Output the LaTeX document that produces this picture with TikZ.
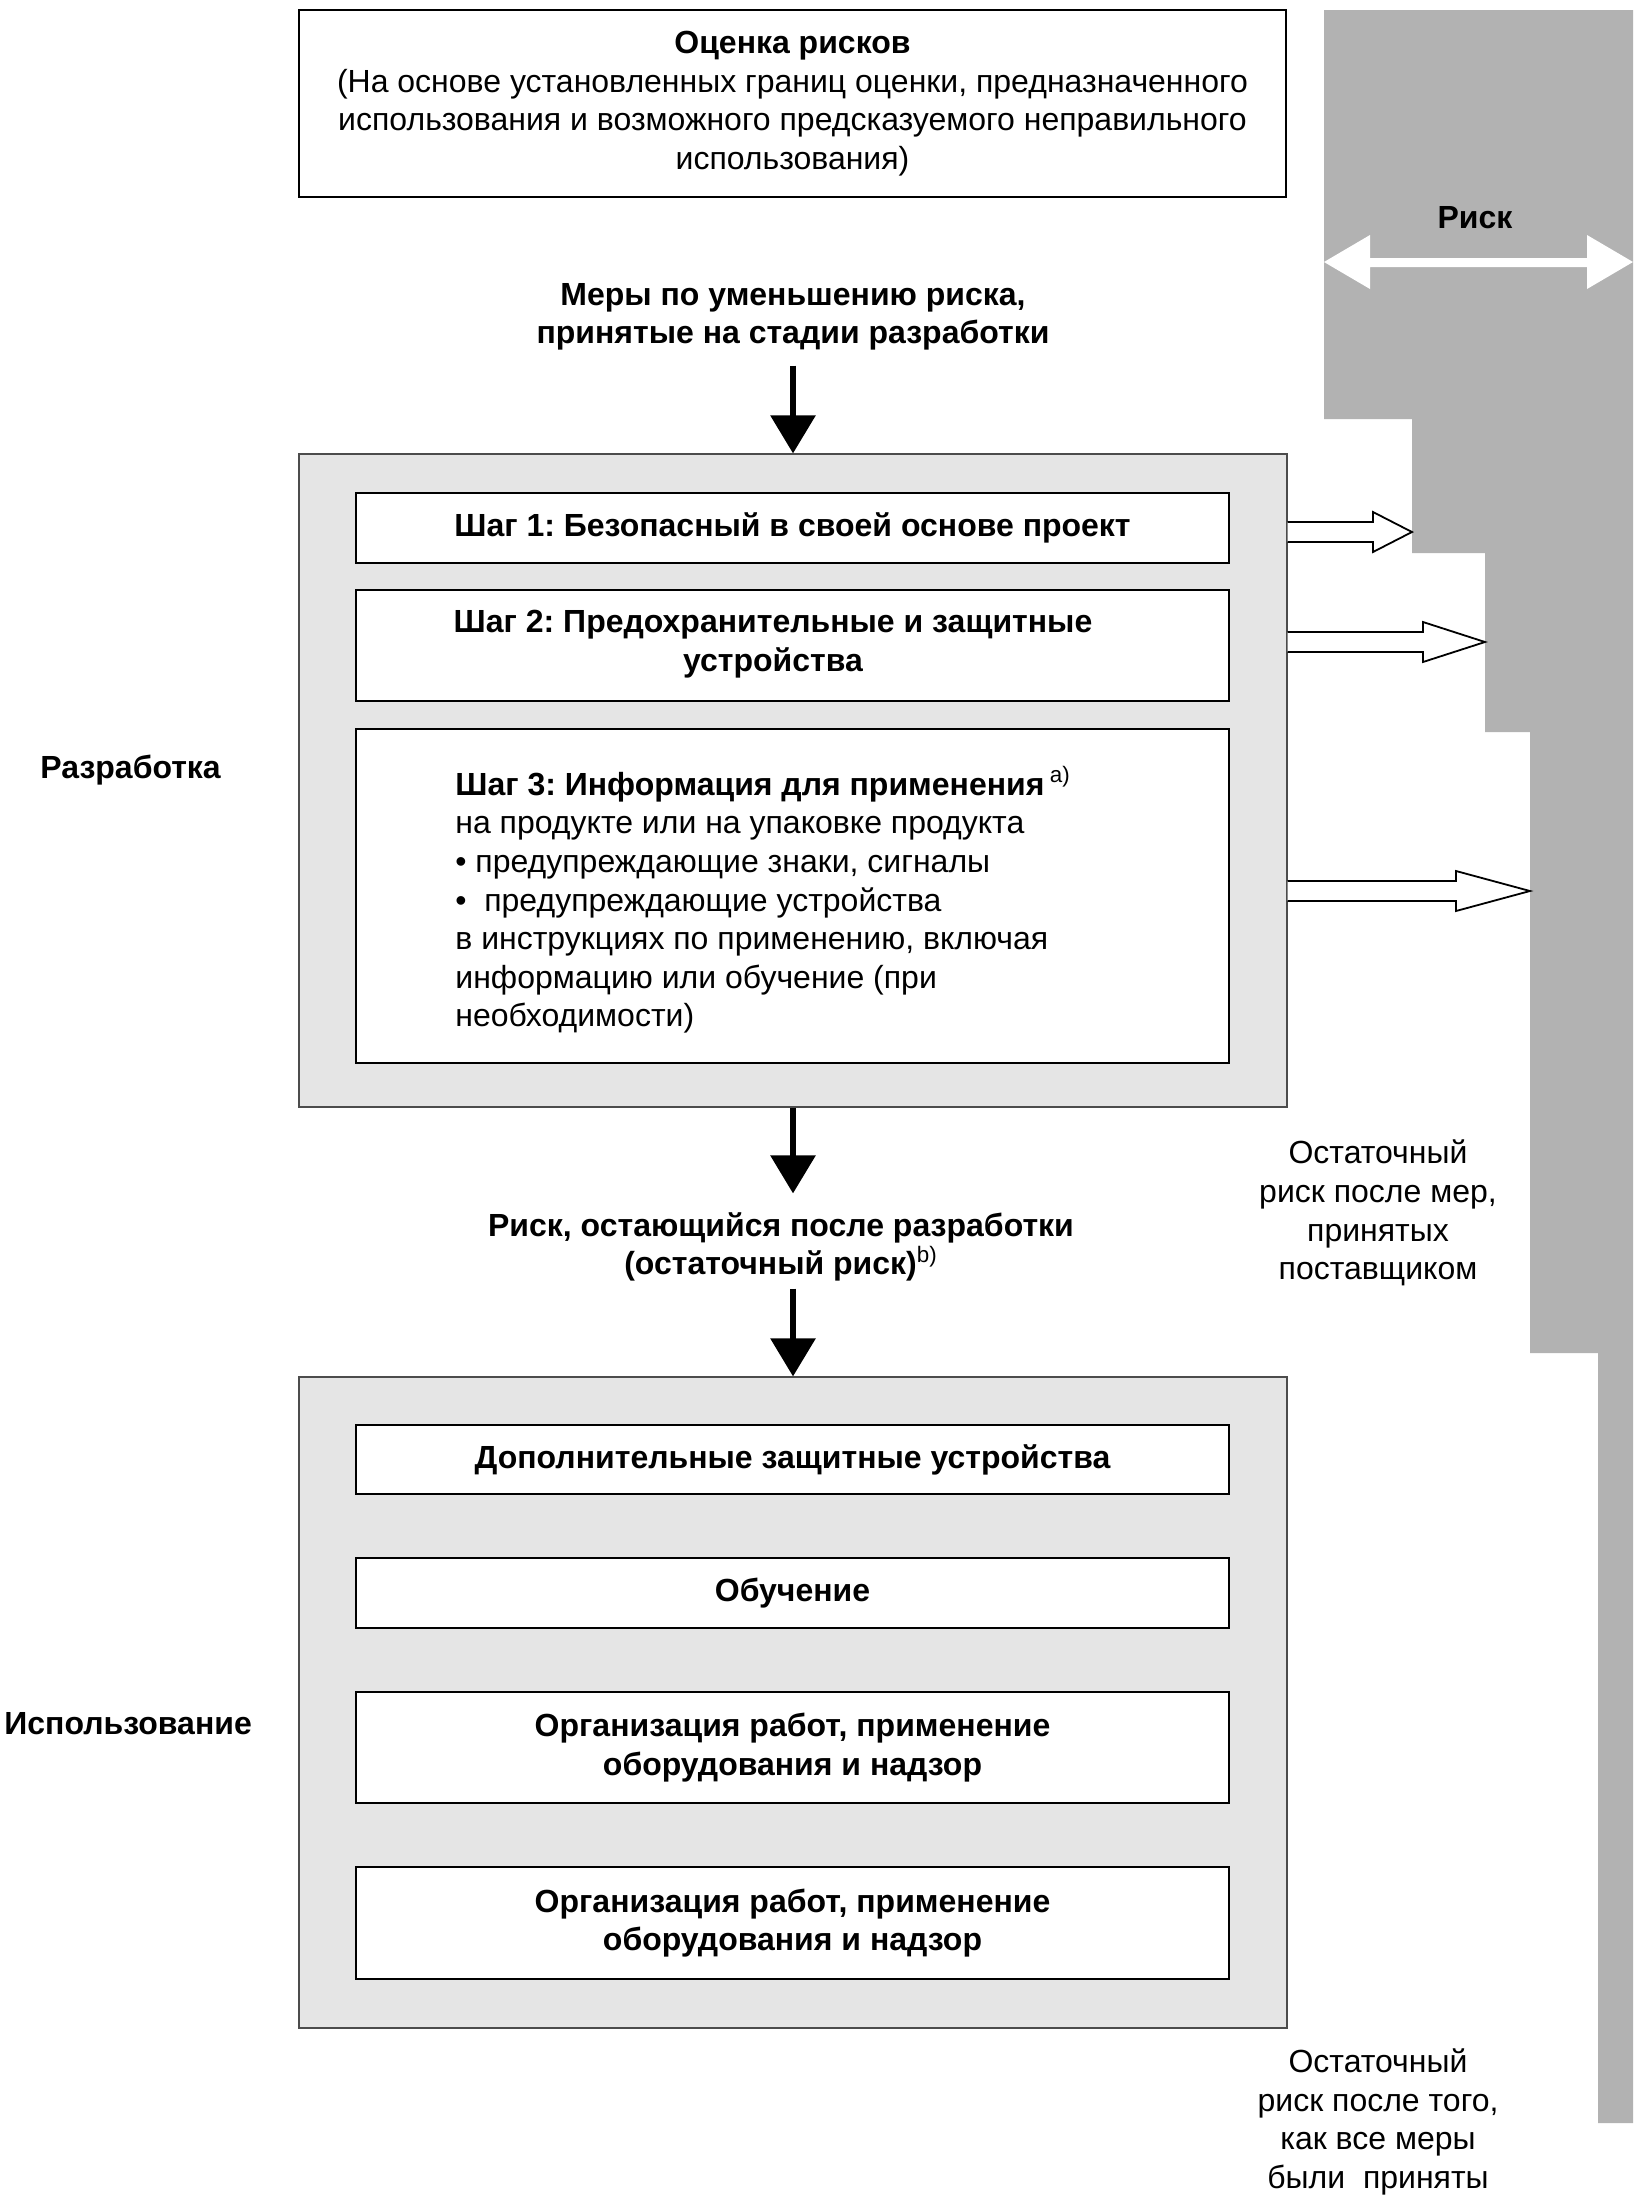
\documentclass[tikz,border=0pt]{standalone}
\usepackage{fontspec}
\setmainfont{Liberation Sans}
\usetikzlibrary{arrows.meta}
\frenchspacing

\newcommand{\txt}{\fontsize{16}{19.3}\selectfont}

\tikzset{
  box/.style={draw=black, line width=0.9pt, fill=white, inner sep=0pt},
  panel/.style={draw=black!70, line width=0.6pt, fill=black!10, inner sep=0pt},
  downarrow/.style={line width=3pt, -{Triangle[length=19pt,width=22pt]}},
  blockarrow/.style={draw=black, line width=0.9pt, fill=white, line join=miter},
}

\begin{document}
\begin{tikzpicture}[x=0.5pt,y=-0.5pt]
    \useasboundingbox (0,0) rectangle (1642,2202);

    % risk column on the right
    \fill[black!30] (1324,10) -| (1633,2123) -| (1598,1353) -| (1530,732)
      -| (1485,553) -| (1412,419) -| (1324,10) -- cycle;
    \fill[white] (1324,262) -- (1370,235) -- (1370,258) -- (1587,258)
      -- (1587,235) -- (1633,262) -- (1587,289) -- (1587,267)
      -- (1370,267) -- (1370,289) -- cycle;
    \node[font=\txt\bfseries] (risk) at (1475,218) {Риск};

    % risk assessment
    \node[box, minimum width=493.5pt, minimum height=93.5pt, align=center, font=\txt]
      (assess) at (792.5,103.5)
      {\textbf{Оценка рисков}\\(На основе установленных границ оценки, предназначенного\\
       использования и возможного предсказуемого неправильного\\использования)};

    \node[align=center, font=\txt\bfseries] (measures) at (793,317)
      {Меры по уменьшению риска,\\принятые на стадии разработки};

    % design stage
    \node[panel, minimum width=494pt, minimum height=326.5pt] (design) at (793,780.5) {};
    \node[box, minimum width=436.5pt, minimum height=35pt, font=\txt\bfseries]
      (step1) at (792.5,528) {Шаг 1: Безопасный в своей основе проект};
    \node[box, minimum width=436.5pt, minimum height=55.5pt] (step2) at (792.5,645.5) {};
    \node[align=center, font=\txt\bfseries] (step2txt) at (773,644)
      {Шаг 2: Предохранительные и защитные\\устройства};
    \node[box, minimum width=436.5pt, minimum height=167pt] (step3) at (792.5,896) {};
    \node[anchor=west, align=left, inner sep=0pt, font=\txt] (step3txt) at (455,900)
      {\textbf{Шаг 3: Информация для применения}\,\textsuperscript{a)}\\
       на продукте или на упаковке продукта\\
       • предупреждающие знаки, сигналы\\
       •~~предупреждающие устройства\\
       в инструкциях по применению, включая\\
       информацию или обучение (при\\
       необходимости)};
    \node[anchor=west, inner sep=0pt, font=\txt\bfseries] (designlbl) at (40,770) {Разработка};

    \foreach \y/\s/\x in {532/1373/1412, 642/1423/1485, 891/1456/1530} {
        \draw[blockarrow] (design.east |- 0,\y-10) -- (\s,\y-10) -- (\s,\y-20) -- (\x,\y)
          -- (\s,\y+20) -- (\s,\y+10) -- (design.east |- 0,\y+10);
      }

    \node[align=center, font=\txt\bfseries] (residual) at (781,1247)
      {Риск, остающийся после разработки\\(остаточный риск)\textsuperscript{\mdseries b)}};
    \node[align=center, font=\txt] (supplier) at (1378,1213)
      {Остаточный\\риск после мер,\\принятых\\поставщиком};

    % use stage
    \node[panel, minimum width=494pt, minimum height=325.5pt] (usage) at (793,1702.5) {};
    \foreach \n/\y/\h/\t in {useA/1459.5/34.5/{Дополнительные защитные устройства},
        useB/1593/35/{Обучение},
        useC/1747.5/55.5/{Организация работ, применение\\оборудования и надзор},
        useD/1923/56/{Организация работ, применение\\оборудования и надзор}} {
        \node[box, minimum width=436.5pt, minimum height=\h pt, align=center, font=\txt\bfseries]
          (\n) at (792.5,\y) {\t};
      }
    \node[anchor=west, inner sep=0pt, font=\txt\bfseries] (uselbl) at (4,1724) {Использование};
    \node[align=center, font=\txt] (final) at (1378,2122)
      {Остаточный\\риск после того,\\как все меры\\были~~приняты};

    % flow arrows
    \draw[downarrow, shorten <=4pt] (measures.south) -- (design.north);
    \draw[downarrow, shorten >=6pt] (design.south) -- (design.south |- residual.north);
    \draw[downarrow] (design.south |- residual.south) -- (usage.north);
  \end{tikzpicture}
\end{document}
